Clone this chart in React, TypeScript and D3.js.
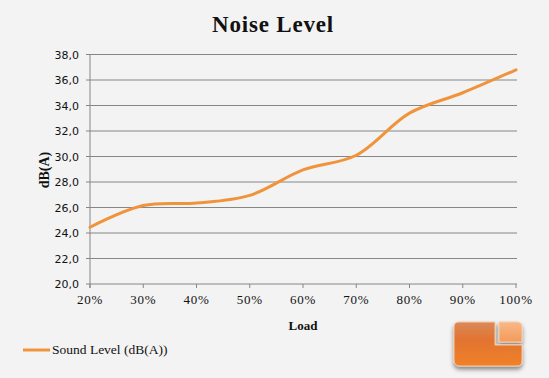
import React from "react";
import * as d3 from "d3";

const categories = ["20%", "30%", "40%", "50%", "60%", "70%", "80%", "90%", "100%"];
const soundLevel = [24.45, 26.15, 26.35, 26.95, 28.95, 30.1, 33.4, 35.0, 36.8];
const yTicks = [20, 22, 24, 26, 28, 30, 32, 34, 36, 38];
const seriesName = "Sound Level (dB(A))";
const title = "Noise Level";
const xTitle = "Load";
const yTitle = "dB(A)";

const W = 549;
const H = 378;
const ORANGE = "#f0943c";

export default function App() {
  const x = d3.scalePoint<string>().domain(categories).range([90, 516]);
  const y = d3.scaleLinear().domain([20, 38]).range([284, 54.5]);
  const line = d3
    .line<number>()
    .x((_, i) => x(categories[i]) as number)
    .y((d) => y(d))
    .curve(d3.curveCatmullRom.alpha(0.5));

  const serif = "'Liberation Serif', 'DejaVu Serif', serif";
  const sans = "'DejaVu Sans', 'Liberation Sans', sans-serif";

  return (
    <svg
      width={W}
      height={H}
      style={{ position: "absolute", left: 0, top: 0, display: "block" }}
    >
      <defs>
        <linearGradient id="lgBig" x1="0" y1="0" x2="0" y2="1">
          <stop offset="0" stopColor="#d98a5a" />
          <stop offset="0.4" stopColor="#e27330" />
          <stop offset="1" stopColor="#f0822a" />
        </linearGradient>
        <linearGradient id="lgSmall" x1="0" y1="0" x2="0" y2="1">
          <stop offset="0" stopColor="#f8b888" />
          <stop offset="1" stopColor="#f49a58" />
        </linearGradient>
        <filter id="sh" x="-20%" y="-20%" width="140%" height="160%">
          <feDropShadow dx="0" dy="3" stdDeviation="2" floodColor="#000" floodOpacity="0.45" />
        </filter>
      </defs>
      <rect x={0} y={0} width={W} height={H} fill="#f3f3f3" />
      <text
        x={273}
        y={32}
        textAnchor="middle"
        fontFamily={serif}
        fontWeight="bold"
        fontSize={23}
        letterSpacing={0.8}
        fill="#111"
      >
        {title}
      </text>
      {yTicks.map((t) => (
        <g key={t}>
          <line x1={86} x2={517} y1={y(t)} y2={y(t)} stroke="#868686" strokeWidth={1} />
          <text
            x={79}
            y={y(t) + 4}
            textAnchor="end"
            fontFamily={sans}
            fontSize={11}
            fill="#111"
          >
            {t.toFixed(1).replace(".", ",")}
          </text>
        </g>
      ))}
      <line x1={90} x2={90} y1={54.5} y2={288} stroke="#868686" strokeWidth={1} />
      {categories.map((c) => (
        <g key={c}>
          <line
            x1={x(c) as number}
            x2={x(c) as number}
            y1={284}
            y2={288}
            stroke="#868686"
            strokeWidth={1}
          />
          <text
            x={x(c) as number}
            y={304}
            textAnchor="middle"
            fontFamily={serif}
            fontSize={13}
            letterSpacing={0.8}
            fill="#111"
          >
            {c}
          </text>
        </g>
      ))}
      <path
        d={line(soundLevel) || ""}
        fill="none"
        stroke={ORANGE}
        strokeWidth={3}
        strokeLinecap="round"
      />
      <text
        x={303}
        y={330}
        textAnchor="middle"
        fontFamily={serif}
        fontWeight="bold"
        fontSize={13}
        fill="#111"
      >
        {xTitle}
      </text>
      <text
        transform={`translate(49,170) rotate(-90)`}
        textAnchor="middle"
        fontFamily={serif}
        fontWeight="bold"
        fontSize={14}
        fill="#111"
      >
        {yTitle}
      </text>
      <line x1={23} x2={50} y1={350} y2={350} stroke={ORANGE} strokeWidth={3} />
      <text x={52} y={354} fontFamily={serif} fontSize={13.5} fill="#111">
        {seriesName}
      </text>
      <g filter="url(#sh)">
        <path
          d="M459,322 L495,322 L495,345 L522,345 L522,361 Q522,366 517,366 L460,366 Q454,366 454,360 L454,327 Q454,322 459,322 Z"
          fill="url(#lgBig)"
          stroke="#f6c9a6"
          strokeWidth={1}
        />
        <path
          d="M499,322 L517,322 Q522,322 522,327 L522,342 L499,342 Z"
          fill="url(#lgSmall)"
          stroke="#f6cdb0"
          strokeWidth={1}
        />
      </g>
    </svg>
  );
}
